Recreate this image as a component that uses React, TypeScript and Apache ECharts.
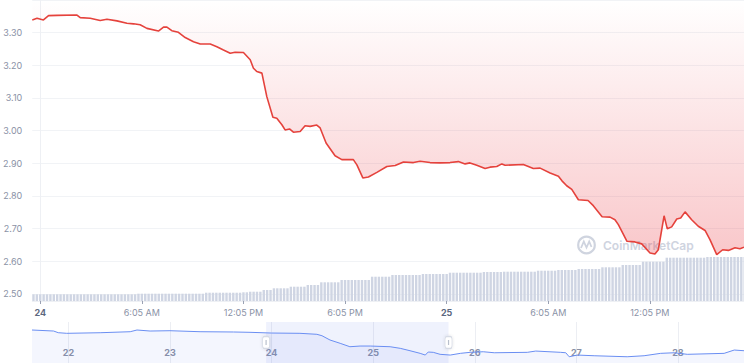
import React, { useEffect, useRef } from "react";
import * as echarts from "echarts";

// ---- main price line (hours relative to day 24, 00:00) ----
const priceHours = [
  -0.47, -0.19, 0.19, 0.49, 0.99, 2.17, 2.36, 2.95, 3.54, 3.94,
  4.53, 5.12, 5.51, 5.9, 6.3, 6.98, 7.28, 7.48, 7.77, 8.16,
  8.56, 9.05, 9.45, 10.04, 10.43, 10.82, 11.22, 11.51, 12.0, 12.4,
  12.59, 12.79, 13.09, 13.38, 13.74, 13.97, 14.27, 14.46, 14.72, 14.95,
  15.35, 15.64, 15.94, 16.33, 16.53, 16.88, 17.41, 17.81, 18.49, 18.7,
  19.05, 19.38, 19.88, 20.47, 20.96, 21.45, 22.04, 22.43, 23.02, 23.61,
  24.2, 24.69, 25.09, 25.38, 25.78, 26.27, 26.56, 26.96, 27.26, 27.45,
  28.53, 29.12, 29.52, 30.11, 30.6, 30.81, 31.09, 31.39, 31.78, 32.35,
  32.66, 33.18, 33.65, 33.94, 34.14, 34.65, 35.12, 35.52, 36.01, 36.3,
  36.5, 36.84, 37.03, 37.29, 37.59, 37.82, 38.08, 38.47, 38.86, 39.26,
  39.55, 39.95, 40.3, 40.64, 41.03, 41.32, 41.56,
];
const prices = [
  3.339, 3.344, 3.339, 3.352, 3.353, 3.354, 3.346, 3.344, 3.337, 3.341,
  3.336, 3.329, 3.327, 3.324, 3.313, 3.305, 3.317, 3.317, 3.306, 3.301,
  3.285, 3.272, 3.265, 3.265, 3.257, 3.247, 3.237, 3.24, 3.239, 3.217,
  3.191, 3.181, 3.176, 3.104, 3.041, 3.038, 3.018, 3.002, 3.005, 2.995,
  2.997, 3.015, 3.013, 3.017, 3.008, 2.962, 2.923, 2.911, 2.911, 2.895,
  2.855, 2.858, 2.872, 2.89, 2.893, 2.904, 2.902, 2.906, 2.902, 2.901,
  2.902, 2.905, 2.898, 2.901, 2.894, 2.884, 2.888, 2.89, 2.898, 2.894,
  2.896, 2.884, 2.885, 2.87, 2.86, 2.846, 2.831, 2.82, 2.788, 2.786,
  2.77, 2.736, 2.735, 2.727, 2.712, 2.661, 2.659, 2.653, 2.625, 2.622,
  2.635, 2.739, 2.699, 2.705, 2.729, 2.732, 2.751, 2.727, 2.707, 2.694,
  2.666, 2.62, 2.635, 2.633, 2.641, 2.638, 2.643,
];

// ---- volume bars (one bar every 12 minutes) ----
const volumeStartHour = -0.4;
const volumeStepHour = 0.2;
const volumes = [
  134, 134, 134, 134, 134, 134, 134, 134, 134, 134,
  134, 134, 134, 134, 134, 134, 134, 134, 134, 134,
  134, 134, 134, 134, 134, 134, 134, 134, 134, 134,
  134,
  146, 146, 146, 146, 146, 146, 146, 146, 146, 146,
  146, 146, 146, 146, 146, 146, 146, 146, 146, 146,
  166, 166, 166, 166, 166, 166, 166, 166, 166, 166, 166,
  174, 174,
  186, 186, 186, 186,
  220, 220, 220,
  254, 254, 254, 254, 254,
  286, 286, 286, 286, 286,
  320, 320, 320, 320,
  374, 374, 374, 374, 374, 374,
  420, 420, 420, 420, 420, 420, 420, 420, 420,
  486, 486, 486, 486, 486, 486,
  520, 520, 520, 520, 520, 520, 520, 520, 520,
  540, 540, 540, 540, 540, 540, 540, 540,
  566, 566, 566, 566, 566, 566, 566, 566, 566, 566,
  580, 580, 580, 580, 580, 580,
  586, 586, 586, 586, 586, 586, 586, 586, 586, 586,
  606, 606, 606, 606, 606, 606,
  620, 620, 620, 620, 620, 620,
  640, 640, 640, 640, 640, 640, 640,
  674, 674, 674, 674, 674, 674,
  720, 720, 720, 720, 720, 720,
  786, 786, 786, 786, 786, 786, 786,
  866, 866, 866, 866, 866, 866, 866, 866, 866, 866, 866, 866,
  880, 880, 880, 880, 880, 880, 880, 880, 880, 880, 880, 880,
];

// ---- axes ----
const xTickHours = [0, 6, 12, 18, 24, 30, 36];
const xTickLabels = ["24", "6:05 AM", "12:05 PM", "6:05 PM", "25", "6:05 AM", "12:05 PM"];
const dayLabels = ["24", "25"];
const yLabelValues = [2.5, 2.6, 2.7, 2.8, 2.9, 3.0, 3.1, 3.2, 3.3];
const yGridValues = [2.5, 2.6, 2.7, 2.8, 2.9, 3.0, 3.1, 3.2, 3.3, 3.4];

// ---- navigator (overview) ----
const navHours = [
  -56.6, -51.5, -50.4, -48.4, -40.5, -33.4, -31.8, -28.7, -24.0, -16.9,
  -9.0, -5.1, 0, 6.7, 10.7, 11.9, 13.8, 16.2, 18.5, 20.9,
  23.3, 28.0, 30.4, 32.7, 35.1, 36.3, 37.0, 38.2, 39.8, 42.2,
  44.6, 46.9, 50.0, 52.6, 60.4, 62.4, 68.3, 69.5, 70.3, 72.2,
  76.2, 84.0, 88.0, 91.9, 95.1, 98.2, 106.9, 109.3, 111.6,
];
const navPrices = [
  3.446, 3.414, 3.361, 3.341, 3.36, 3.392, 3.446, 3.414, 3.424, 3.392,
  3.383, 3.373, 3.35, 3.341, 3.31, 3.265, 3.129, 3.024, 2.916, 2.938,
  2.938, 2.916, 2.865, 2.789, 2.706, 2.652, 2.748, 2.738, 2.675, 2.652,
  2.706, 2.738, 2.757, 2.725, 2.738, 2.779, 2.738, 2.725, 2.598, 2.652,
  2.63, 2.598, 2.63, 2.706, 2.725, 2.675, 2.706, 2.811, 2.789,
];
const navDayHours = [-48, -24, 0, 24, 48, 72, 96];
const navDayLabels = ["22", "23", "24", "25", "26", "27", "28"];
const windowHours = [-1.3, 41.8];
const handleLevel = 3.05;

const FONT = "Inter, 'Noto Sans', sans-serif";

function buildOption() {
  const lineData = priceHours.map((h, i) => [h, prices[i]]);
  const barData = volumes.map((v, i) => [volumeStartHour + i * volumeStepHour, v]);
  const navData = navHours.map((h, i) => [h, navPrices[i]]);
  const wm = "#cfd4df";

  return {
    animation: false,
    textStyle: { fontFamily: FONT },
    grid: [
      { left: 32, right: 0, top: 0, bottom: 62 },
      { left: 32, right: 0, top: 322, bottom: 0 },
    ],
    xAxis: [
      {
        type: "value",
        gridIndex: 0,
        min: -0.47,
        max: 41.56,
        axisLine: { show: true, lineStyle: { color: "#eef0f4" } },
        axisTick: { show: true, length: 3, lineStyle: { color: "#9aa1b3" }, customValues: xTickHours },
        axisLabel: {
          customValues: xTickHours,
          margin: 7,
          fontSize: 9,
          color: "#8a92a6",
          fontFamily: FONT,
          formatter: (v: number) => {
            const idx = xTickHours.indexOf(Math.round(v));
            const t = idx >= 0 ? xTickLabels[idx] : "";
            return dayLabels.indexOf(t) >= 0 && idx % 4 === 0 ? `{d|${t}}` : t;
          },
          rich: { d: { fontWeight: "bold", color: "#5d6880", fontSize: 9, fontFamily: FONT } },
        },
        splitLine: { show: false },
      },
      {
        type: "value",
        gridIndex: 1,
        min: -56.6,
        max: 111.6,
        axisLine: { show: false },
        axisTick: { show: false, customValues: navDayHours },
        axisLabel: {
          inside: true,
          customValues: navDayHours,
          margin: 6,
          fontSize: 9,
          fontWeight: "bold",
          color: "#8990a5",
          fontFamily: FONT,
          formatter: (v: number) => {
            const idx = navDayHours.indexOf(Math.round(v));
            return idx >= 0 ? navDayLabels[idx] : "";
          },
        },
        splitLine: { show: true, lineStyle: { color: "#eceef3", width: 1 } },
      },
    ],
    yAxis: [
      {
        type: "value",
        gridIndex: 0,
        min: 2.478,
        max: 3.4,
        axisLine: { show: true, lineStyle: { color: "#eef0f4" } },
        axisTick: { show: false, customValues: yGridValues },
        axisLabel: {
          customValues: yLabelValues,
          margin: 10,
          fontSize: 9,
          color: "#8a92a6",
          fontFamily: FONT,
          formatter: (v: number) => v.toFixed(2),
        },
        splitLine: { show: true, lineStyle: { color: "#f1f3f6" } },
      },
      { type: "value", gridIndex: 0, min: 0, max: 6020, show: false },
      { type: "value", gridIndex: 1, min: 2.4, max: 3.7, show: false },
    ],
    graphic: [
      {
        type: "group",
        x: 577,
        y: 236,
        z: 1,
        children: [
          { type: "circle", shape: { cx: 9.5, cy: 9, r: 8.3 }, style: { fill: "none", stroke: wm, lineWidth: 2.2 } },
          {
            type: "polyline",
            shape: { points: [[4, 12], [6.8, 5.5], [9.5, 11.5], [12.2, 5.5], [14.5, 11]] },
            style: { fill: "none", stroke: wm, lineWidth: 1.8 },
          },
          {
            type: "text",
            x: 26,
            y: 9.5,
            style: { text: "CoinMarketCap", fill: wm, font: `600 12px ${FONT}`, verticalAlign: "middle" },
          },
        ],
      },
    ],
    series: [
      {
        type: "bar",
        xAxisIndex: 0,
        yAxisIndex: 1,
        data: barData,
        barWidth: 2.4,
        itemStyle: { color: "#cfd5e3" },
        z: 2,
      },
      {
        type: "line",
        xAxisIndex: 0,
        yAxisIndex: 0,
        data: lineData,
        symbol: "none",
        lineStyle: { color: "#e5423c", width: 1.6 },
        areaStyle: {
          origin: "end",
          color: new echarts.graphic.LinearGradient(0, 0, 0, 1, [
            { offset: 0, color: "rgba(234,57,67,0)" },
            { offset: 1, color: "rgba(234,57,67,0.4)" },
          ]),
        },
        z: 3,
      },
      {
        type: "line",
        xAxisIndex: 1,
        yAxisIndex: 2,
        data: navData,
        symbol: "none",
        lineStyle: { color: "#6a8ef2", width: 1 },
        areaStyle: { color: "rgba(98,126,234,0.1)" },
        markArea: {
          silent: true,
          itemStyle: { color: "rgba(98,126,234,0.1)" },
          data: [[{ xAxis: windowHours[0] }, { xAxis: windowHours[1] }]],
        },
        markPoint: {
          silent: true,
          label: { show: false },
          data: [
            {
              coord: [windowHours[0], handleLevel],
              symbol: "roundRect",
              symbolSize: [7, 12],
              itemStyle: { color: "#ffffff", borderColor: "#d6dbe5", borderWidth: 1, shadowBlur: 3, shadowColor: "rgba(0,0,0,0.12)" },
            },
            {
              coord: [windowHours[1], handleLevel],
              symbol: "roundRect",
              symbolSize: [7, 12],
              itemStyle: { color: "#ffffff", borderColor: "#d6dbe5", borderWidth: 1, shadowBlur: 3, shadowColor: "rgba(0,0,0,0.12)" },
            },
            { coord: [windowHours[0], handleLevel], symbol: "rect", symbolSize: [1.2, 5], itemStyle: { color: "#b9c0cc" } },
            { coord: [windowHours[1], handleLevel], symbol: "rect", symbolSize: [1.2, 5], itemStyle: { color: "#b9c0cc" } },
          ],
        },
        z: 3,
      },
    ],
  };
}

export default function App() {
  const ref = useRef<HTMLDivElement>(null);
  useEffect(() => {
    if (!ref.current) return;
    const chart = echarts.init(ref.current, undefined, { renderer: "svg" });
    chart.setOption(buildOption() as any);
    return () => chart.dispose();
  }, []);
  return (
    <div
      ref={ref}
      style={{ position: "fixed", left: 0, top: 0, width: 744, height: 363, background: "#fff" }}
    />
  );
}
